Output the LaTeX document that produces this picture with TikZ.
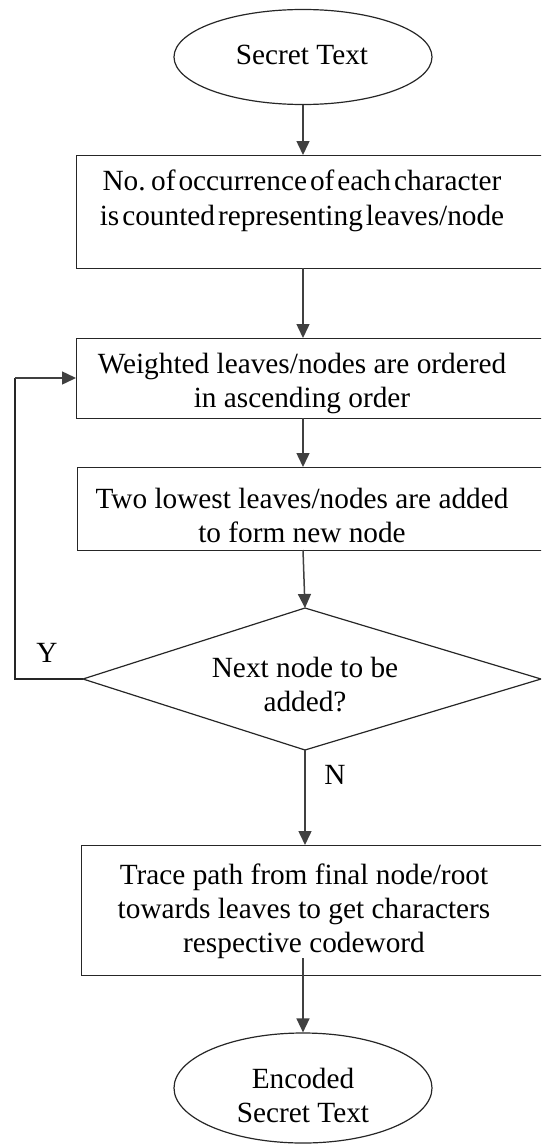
\documentclass[tikz,border=0pt]{standalone}
\usepackage{fontspec}
\setmainfont{Liberation Serif}
\usetikzlibrary{arrows.meta,shapes.geometric}
\newcommand{\tightsp}{\spaceskip=3pt plus 1pt\relax}
\begin{document}
\begin{tikzpicture}[x=1pt,y=-1pt,
  boxst/.style={draw=black!85, line width=1.4pt, anchor=north west, inner sep=0pt},
  ovalst/.style={draw=black!85, line width=1.2pt, ellipse, inner sep=0pt},
  txt/.style={align=center, inner sep=0pt, font=\fontsize{29.3}{34}\selectfont},
  lbl/.style={inner sep=0pt, font=\fontsize{29.3}{34}\selectfont},
  arr/.style={-{Triangle[width=13pt,length=14pt]}, line width=1.5pt, draw=black!75},
  lnk/.style={line width=1.5pt, draw=black!85}]
\useasboundingbox (0,0) rectangle (541,1145);
\clip (0,0) rectangle (541,1145);
% start
\node[ovalst, minimum width=258pt, minimum height=95pt] (start) at (303,57) {};
\node[txt] (starttxt) at (302,55) {Secret Text};
% box 1
\node[boxst, minimum width=480pt, minimum height=113pt] (b1) at (76,155) {};
\node[txt, font={\fontsize{29.3}{35}\selectfont\tightsp}] (b1txt) at (302,200.5) {No. of occurrence of each character\\is counted representing leaves/node};
% box 2
\node[boxst, minimum width=480pt, minimum height=80pt] (b2) at (76,338) {};
\node[txt] (b2txt) at (302,383) {Weighted leaves/nodes are ordered\\in ascending order};
% box 3
\node[boxst, minimum width=480pt, minimum height=83pt] (b3) at (77,467) {};
\node[txt] (b3txt) at (302,515) {Two lowest leaves/nodes are added\\to form new node};
% diamond
\coordinate (dt) at (305,608);
\coordinate (dr) at (541,679);
\coordinate (db) at (305,750);
\coordinate (dl) at (83,679);
\draw[line width=1.2pt, draw=black!85] (dt) -- (dr) -- (db) -- (dl) -- cycle;
\node[txt] (dtxt) at (305,685) {Next node to be\\added?};
% box 4
\node[boxst, minimum width=480pt, minimum height=130pt] (b4) at (81,845) {};
\node[txt] (b4txt) at (304,911) {Trace path from final node/root\\towards leaves to get characters\\respective codeword};
% end
\node[ovalst, minimum width=258pt, minimum height=110pt] (stop) at (303,1088) {};
\node[txt] (stoptxt) at (303,1095) {Encoded\\Secret Text};
% connectors
\draw[arr] (start.south) -- (303,155);
\draw[arr] (303,268) -- (303,338);
\draw[arr] (303,418) -- (303,467);
\draw[arr] (303,550) -- (dt);
\draw[arr] (db) -- (305,845);
\coordinate (tr) at (303,958);
\draw[arr] (tr) -- (stop.north);
\coordinate (lc1) at (15,679);
\coordinate (lc2) at (15,378);
\draw[lnk] (dl) -- (lc1) -- (lc2);
\draw[arr] (lc2) -- (76,378);
% labels
\node[lbl] (ylab) at (47,653) {Y};
\node[lbl] (nlab) at (335,775) {N};
\end{tikzpicture}
\end{document}
